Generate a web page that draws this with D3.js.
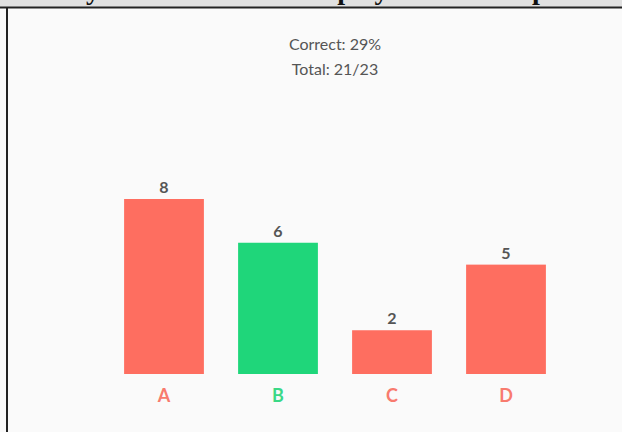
<!DOCTYPE html>
<html>
<head>
<meta charset="utf-8">
<script src="https://cdn.jsdelivr.net/npm/d3@7"></script>
<style>
  body { margin: 0; background: #fafafa; }
  svg { display: block; }
</style>
</head>
<body>
<div id="chart"></div>
<script>
// chart data
var categories = ["A", "B", "C", "D"];
var counts = [8, 6, 2, 5];
var isCorrect = [false, true, false, false];
var titleLines = ["Correct: 29%", "Total: 21/23"];
// header words, only their lower parts show under the page edge
var headerWords = ["Survey results of the", "display on the", "poll"];
var headerX = [16, 303, 532];

var svgWidth = 622;
var svgHeight = 432;

var red = "#fe6e60";
var green = "#1fd67a";

var svg = d3.select("#chart").append("svg")
  .attr("width", svgWidth)
  .attr("height", svgHeight);

// page background
svg.append("rect")
  .attr("width", svgWidth)
  .attr("height", svgHeight)
  .attr("fill", "#fafafa");

// cut off header strip at the top
svg.append("rect")
  .attr("width", svgWidth)
  .attr("height", 7)
  .attr("fill", "#e0e0e0");

svg.append("clipPath").attr("id", "headClip")
  .append("rect").attr("width", svgWidth).attr("height", 7);

svg.append("text")
  .attr("clip-path", "url(#headClip)")
  .attr("y", -1)
  .attr("font-family", "Liberation Serif")
  .attr("font-weight", "bold")
  .attr("font-size", 28)
  .attr("fill", "#111")
  .selectAll("tspan")
  .data(headerWords)
  .enter()
  .append("tspan")
  .attr("x", (d, i) => headerX[i])
  .text(d => d);

svg.append("line")
  .attr("x1", 0).attr("x2", svgWidth)
  .attr("y1", 7.5).attr("y2", 7.5)
  .attr("stroke", "#222").attr("stroke-width", 2);

svg.append("line")
  .attr("x1", 7).attr("x2", 7)
  .attr("y1", 7).attr("y2", svgHeight)
  .attr("stroke", "#222").attr("stroke-width", 2);

// scales
var xScale = d3.scaleBand()
  .domain(categories)
  .range([107, 563])
  .paddingInner(0.3)
  .paddingOuter(0.15);

var yScale = d3.scaleLinear()
  .domain([0, 8])
  .range([374, 199]);

// title
svg.selectAll(".title")
  .data(titleLines)
  .enter()
  .append("text")
  .attr("class", "title")
  .attr("x", 335)
  .attr("y", (d, i) => 50 + i * 25)
  .attr("text-anchor", "middle")
  .attr("font-family", "Lato")
  .attr("font-size", 16)
  .attr("fill", "#555")
  .text(d => d);

// bars
svg.selectAll(".bar")
  .data(counts)
  .enter()
  .append("rect")
  .attr("class", "bar")
  .attr("x", (d, i) => xScale(categories[i]))
  .attr("y", d => yScale(d))
  .attr("width", xScale.bandwidth())
  .attr("height", d => yScale(0) - yScale(d))
  .attr("fill", (d, i) => isCorrect[i] ? green : red);

// value labels
svg.selectAll(".value")
  .data(counts)
  .enter()
  .append("text")
  .attr("class", "value")
  .attr("x", (d, i) => xScale(categories[i]) + xScale.bandwidth() / 2)
  .attr("y", d => yScale(d) - 6)
  .attr("text-anchor", "middle")
  .attr("font-family", "Lato")
  .attr("font-weight", "bold")
  .attr("font-size", 16)
  .attr("fill", "#555")
  .text(d => d);

// category axis
var xAxis = d3.axisBottom(xScale).tickSize(0).tickPadding(15);
var axisG = svg.append("g")
  .attr("transform", `translate(0, ${yScale(0)})`)
  .call(xAxis);
axisG.select(".domain").remove();
axisG.selectAll("text")
  .attr("font-family", "Lato")
  .attr("font-weight", "bold")
  .attr("font-size", 18)
  .attr("fill", (d, i) => isCorrect[i] ? "#3ad886" : "#f87b6e");
</script>
</body>
</html>
